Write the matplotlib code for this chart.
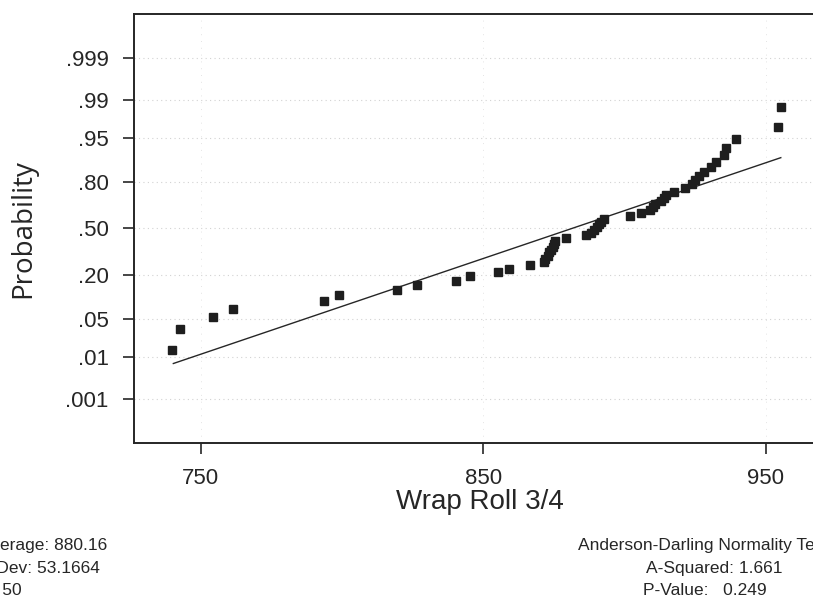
import matplotlib
matplotlib.use("Agg")
import matplotlib.pyplot as plt
from statistics import NormalDist

# Wrap Roll 3/4 readings, sorted
wrap_roll = [
    739.8, 742.7, 754.5, 761.5, 793.7, 799.0, 819.5, 826.5, 840.2, 845.4,
    855.3, 859.2, 866.4, 871.5, 872.0, 872.8, 873.4, 874.0, 874.5, 875.0,
    875.5, 879.2, 886.3, 888.3, 889.3, 890.1, 890.8, 891.5, 892.6, 901.9,
    905.7, 909.1, 910.1, 910.8, 913.0, 913.8, 914.6, 917.4, 921.3, 923.9,
    924.8, 926.3, 928.2, 930.5, 932.3, 935.2, 936.0, 939.5, 954.2, 955.2,
]

prob_ticks = [0.001, 0.01, 0.05, 0.20, 0.50, 0.80, 0.95, 0.99, 0.999]
prob_labels = [".001", ".01", ".05", ".20", ".50", ".80", ".95", ".99", ".999"]
x_ticks = [750, 850, 950]

# fitted line as drawn (end points)
fit_x = [740.3, 955.3]
fit_prob = [0.0072, 0.90]

stats_left = ["Average: 880.16", "StDev: 53.1664", "N: 50"]
stats_right = ["Anderson-Darling Normality Test", "A-Squared: 1.661", "P-Value:   0.249"]

plt.rcParams["font.family"] = ["Liberation Sans", "DejaVu Sans"]

nd = NormalDist()


def zscore(p):
    return nd.inv_cdf(p)


# median-rank plotting positions, as Minitab does
n = len(wrap_roll)
point_z = [zscore((i + 1 - 0.3) / (n + 0.4)) for i in range(n)]

W, H = 813, 596
fig = plt.figure(figsize=(W / 100, H / 100), dpi=100)
ax = fig.add_axes([133.5 / W, 1 - 443 / H, (826 - 133.5) / W, (443 - 14) / H])

ax.set_xlim(726.2, 971.3)
ax.set_ylim(-3.887, 3.884)

ink = "#262626"

for p in prob_ticks:
    ax.axhline(zscore(p), color="#d2d2d2", lw=0.8, ls=(0, (1, 3)), zorder=0)
for xv in x_ticks:
    ax.axvline(xv, color="#e4e4e4", lw=0.7, ls=(0, (1, 6)), zorder=0)

ax.plot(fit_x, [zscore(p) for p in fit_prob], color=ink, lw=1.0, zorder=2)
ax.plot(wrap_roll, point_z, ls="none", marker="s", ms=5.2,
        color="#1e1e1e", mec="#1e1e1e", zorder=3)

ax.set_yticks([zscore(p) for p in prob_ticks])
ax.set_yticklabels(prob_labels)
ax.set_xticks(x_ticks)
ax.set_xticklabels([str(v) for v in x_ticks])

ax.tick_params(axis="both", direction="out", length=8, width=1.2,
               color=ink, labelcolor=ink, labelsize=16, pad=10)

for side in ["left", "bottom", "top", "right"]:
    ax.spines[side].set_color(ink)
    ax.spines[side].set_linewidth(1.4)

fig.text(23 / W, 1 - 228.5 / H, "Probability", rotation=90, ha="center",
         va="center", fontsize=20, color=ink, family=["Open Sans", "DejaVu Sans"])
fig.text(480 / W, 1 - 502 / H, "Wrap Roll 3/4", ha="center", va="center",
         fontsize=20, color=ink)

left_base = [550, 573, 595]
for txt, yb in zip(stats_left, left_base):
    fig.text(-20 / W, 1 - yb / H, txt, ha="left", va="baseline",
             fontsize=12.5, color=ink)

right_x = [578, 646, 643]
for txt, xl, yb in zip(stats_right, right_x, left_base):
    fig.text(xl / W, 1 - yb / H, txt, ha="left", va="baseline",
             fontsize=12.5, color=ink)

fig.savefig("out.png", dpi=100)
